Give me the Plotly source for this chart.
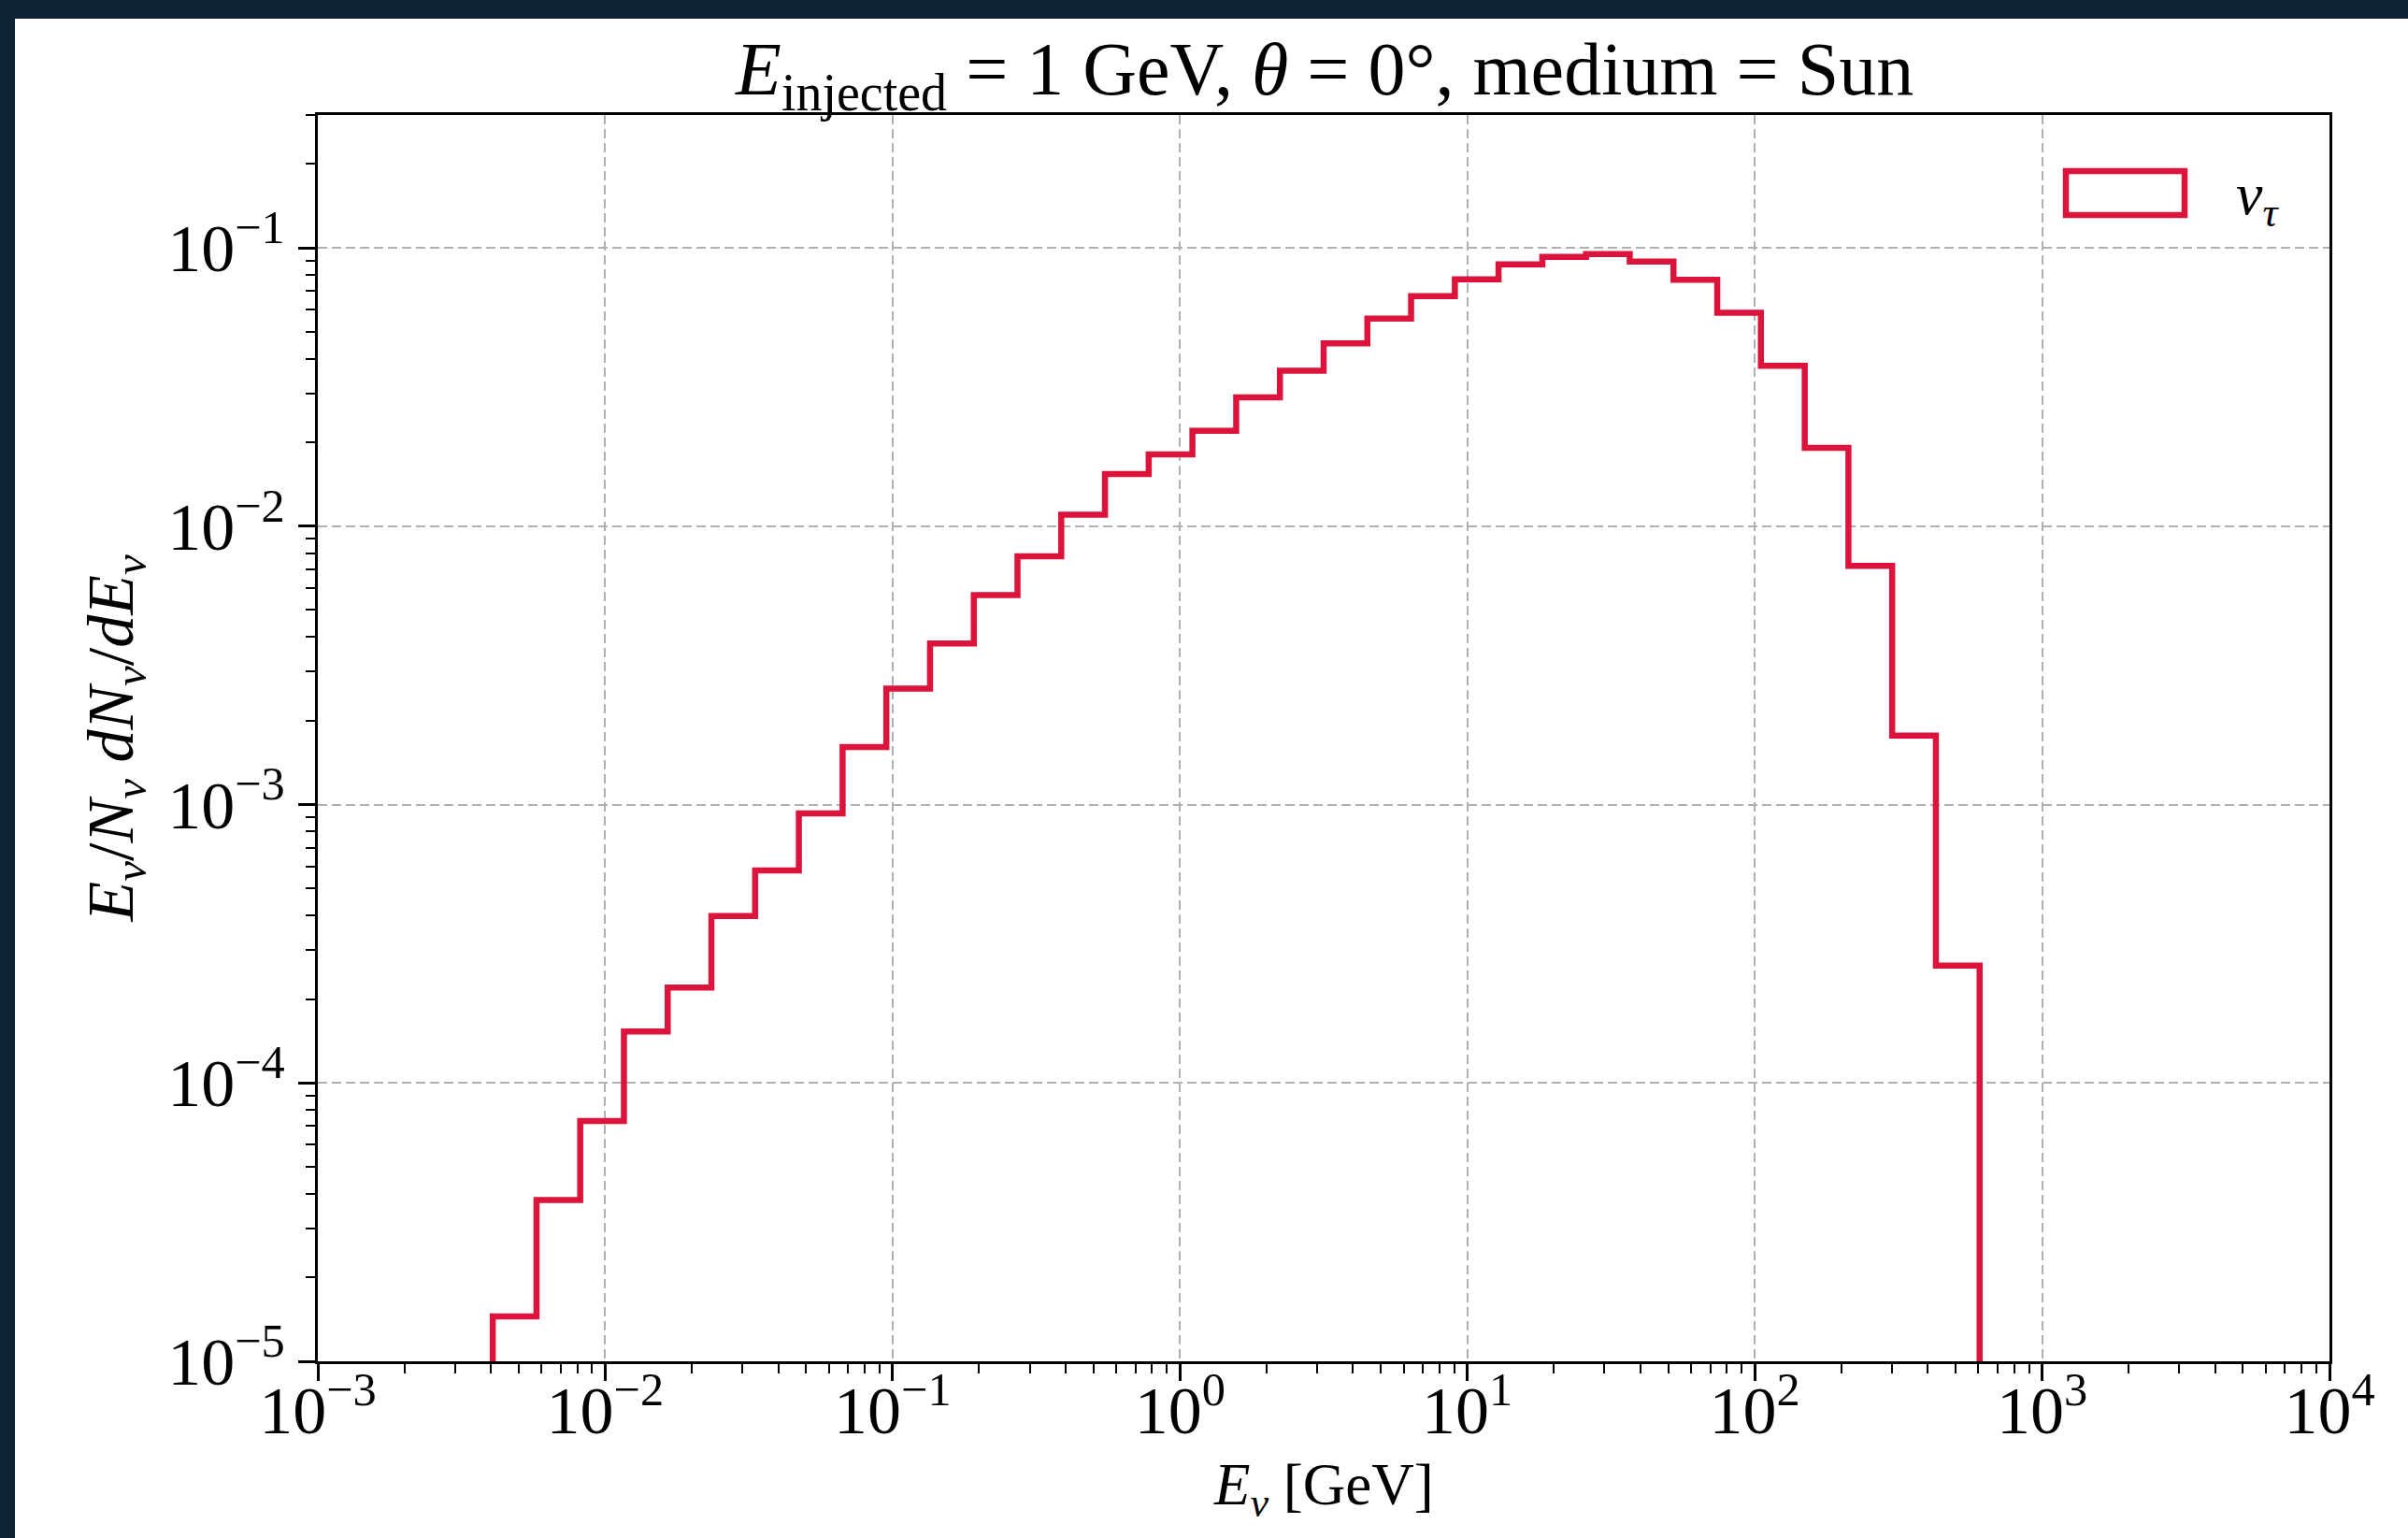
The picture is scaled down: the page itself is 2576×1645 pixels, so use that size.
import plotly.graph_objects as go

# ---- data ----
# logarithmic bin edges in GeV
bin_edges = [0.004062, 0.005767, 0.008185, 0.01162, 0.01650, 0.02342, 0.03325, 0.04719,
             0.06700, 0.09512, 0.1350, 0.1917, 0.2721, 0.3863, 0.5484, 0.7785, 1.105,
             1.569, 2.228, 3.162, 4.489, 6.373, 9.048, 12.84, 18.24, 25.88, 36.74, 52.17,
             74.06, 105.1, 149.3, 211.9, 300.8, 427.0, 606.2]
# E/N dN/dE for nu_tau in each bin
nu_tau = [1.45e-5, 3.8e-5, 7.3e-5, 1.53e-4, 2.2e-4, 3.98e-4, 5.8e-4, 9.3e-4, 1.61e-3,
          2.61e-3, 3.79e-3, 5.66e-3, 7.8e-3, 1.10e-2, 1.54e-2, 1.81e-2, 2.20e-2, 2.90e-2,
          3.62e-2, 4.54e-2, 5.57e-2, 6.70e-2, 7.70e-2, 8.72e-2, 9.27e-2, 9.49e-2, 8.93e-2,
          7.67e-2, 5.84e-2, 3.77e-2, 1.91e-2, 7.2e-3, 1.77e-3, 2.64e-4]

x_decades = [-3, -2, -1, 0, 1, 2, 3, 4]
y_decades = [-5, -4, -3, -2, -1]

FONT = "Liberation Serif, DejaVu Serif, serif"
RED = "#DC143C"
floor = 1e-9

# step outline (histtype="step")
xs = [bin_edges[0]] + bin_edges[:len(nu_tau)] + [bin_edges[-1], bin_edges[-1]]
ys = [floor] + nu_tau + [nu_tau[-1], floor]

fig = go.Figure()
fig.add_trace(go.Scatter(x=xs, y=ys, mode="lines", line=dict(color=RED, width=6.5, shape="hv"),
                         name="nu_tau", showlegend=False, hoverinfo="skip"))

def sup_label(e):
    s = str(e).replace("-", "\u2212")
    return f"10<sup>{s}</sup>"

x_minor = [m * 10 ** d for d in x_decades[:-1] for m in range(2, 10)]
y_minor = [m * 10 ** d for d in y_decades for m in range(2, 10)]

axis_common = dict(
    showline=True, linecolor="black", linewidth=2.6, mirror=True,
    ticks="outside", ticklen=18, tickwidth=2.6, tickcolor="black",
    showgrid=True, gridcolor="#b0b0b0", gridwidth=2.4, griddash="10px,5px",
    tickfont=dict(family=FONT, size=72, color="black"),
    zeroline=False,
)

fig.update_xaxes(type="log", range=[-3, 4], tickmode="array",
                 tickvals=[10 ** d for d in x_decades],
                 ticktext=[sup_label(d) for d in x_decades],
                 ticklabelstandoff=-30,
                 minor=dict(tickmode="array", tickvals=x_minor, ticks="outside",
                            ticklen=10, tickwidth=2.2, tickcolor="black", showgrid=False),
                 **axis_common)
fig.update_yaxes(type="log", range=[-5, -0.5229], tickmode="array",
                 tickvals=[10 ** d for d in y_decades],
                 ticktext=[sup_label(d) for d in y_decades],
                 minor=dict(tickmode="array", tickvals=y_minor, ticks="outside",
                            ticklen=10, tickwidth=2.2, tickcolor="black", showgrid=False),
                 **axis_common)

W, H = 2576, 1645
L, R, T, B = 340, 84, 123, 189
pw, ph = W - L - R, H - T - B

def px(x):
    return (x - L) / pw

def py(y):
    return (H - B - y) / ph

shapes = [
    # white figure panel on dark page
    dict(type="rect", xref="paper", yref="paper", x0=px(16), x1=px(W + 50), y0=py(H + 50), y1=py(20),
         fillcolor="white", line=dict(width=0), layer="below"),
    # legend patch
    dict(type="rect", xref="paper", yref="paper", x0=px(2210), x1=px(2337), y0=py(230), y1=py(183),
         fillcolor="rgba(0,0,0,0)", line=dict(color=RED, width=6.5), layer="above"),
]

annotations = [
    dict(text="<i>E</i><sub>injected</sub> = 1 GeV, <i>θ</i> = 0°, medium = Sun",
         xref="paper", yref="paper", x=0.5, y=py(80), xanchor="center", yanchor="middle",
         showarrow=False, font=dict(family=FONT, size=80, color="black")),
    dict(text="<i>E</i><sub><i>ν</i></sub> [GeV]",
         xref="paper", yref="paper", x=0.5, y=py(1592), xanchor="center", yanchor="middle",
         showarrow=False, font=dict(family=FONT, size=63, color="black")),
    dict(text="<i>E</i><sub><i>ν</i></sub>/<i>N</i><sub><i>ν</i></sub> <i>dN</i><sub><i>ν</i></sub>/<i>dE</i><sub><i>ν</i></sub>",
         xref="paper", yref="paper", x=px(123), y=0.5, xanchor="center", yanchor="middle",
         textangle=-90, showarrow=False, font=dict(family=FONT, size=70, color="black")),
    dict(text="<i>ν</i><sub><i>τ</i></sub>",
         xref="paper", yref="paper", x=px(2390), y=py(212), xanchor="left", yanchor="middle",
         showarrow=False, font=dict(family=FONT, size=64, color="black")),
]

fig.update_layout(
    width=W, height=H, autosize=False,
    margin=dict(l=L, r=R, t=T, b=B, pad=0),
    paper_bgcolor="#0f2236", plot_bgcolor="white",
    showlegend=False, shapes=shapes, annotations=annotations,
    font=dict(family=FONT, color="black"),
)

fig.write_html("out.html", config={"displayModeBar": False},
               post_script="document.body.style.margin='0';document.body.style.overflow='hidden';")
